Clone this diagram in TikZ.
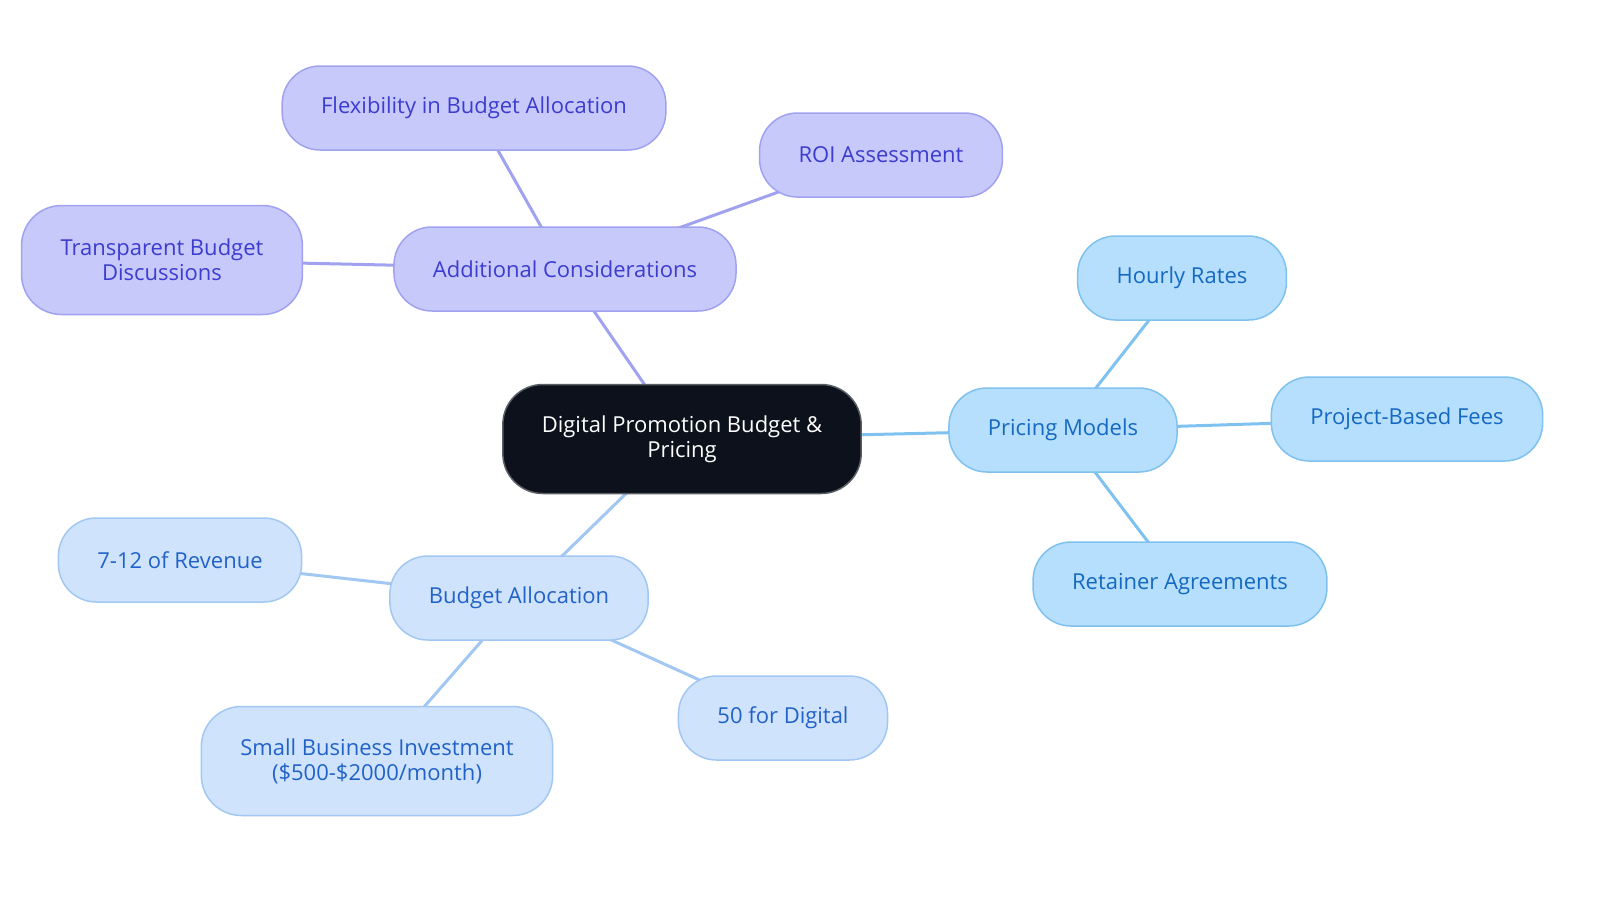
\documentclass[tikz,border=0pt]{standalone}
\usepackage{fontspec}
\setmainfont{Open Sans}
\usepackage{xcolor}
\usetikzlibrary{backgrounds}
\definecolor{rootfill}{HTML}{0C111B}
\definecolor{rootline}{HTML}{5A5F66}
\definecolor{considerfill}{HTML}{C8C9FB}
\definecolor{considerline}{HTML}{A0A2F0}
\definecolor{considertext}{HTML}{3C3CCF}
\definecolor{pricingfill}{HTML}{B5DFFC}
\definecolor{pricingline}{HTML}{7FC1EF}
\definecolor{pricingtext}{HTML}{1569C2}
\definecolor{budgetfill}{HTML}{CFE4FC}
\definecolor{budgetline}{HTML}{A2C7F2}
\definecolor{budgettext}{HTML}{2262C8}

\begin{document}
\begin{tikzpicture}[x=1pt, y=-1pt,
  pill/.style={rectangle, rounded corners=38pt, inner xsep=39pt, minimum height=84pt,
    line width=1.5pt, align=center, font=\fontsize{22}{25}\selectfont},
  root/.style={pill, fill=rootfill, draw=rootline, text=white, minimum height=109pt, rounded corners=40pt},
  consider/.style={pill, fill=considerfill, draw=considerline, text=considertext},
  pricing/.style={pill, fill=pricingfill, draw=pricingline, text=pricingtext},
  budget/.style={pill, fill=budgetfill, draw=budgetline, text=budgettext},
  tall/.style={minimum height=109pt, rounded corners=40pt},
  link/.style={line width=3pt}]
\useasboundingbox (0,0) rectangle (1600,903);

% centre
\node[root] (promo) at (682,439) {Digital Promotion Budget \&\\Pricing};

% additional considerations
\node[consider] (extra) at (565,269) {Additional Considerations};
\node[consider] (flex) at (474,108) {Flexibility in Budget Allocation};
\node[consider] (roi) at (881,155) {ROI Assessment};
\node[consider, tall] (talk) at (162,260) {Transparent Budget\\Discussions};

% pricing models
\node[pricing] (models) at (1063,430) {Pricing Models};
\node[pricing] (hourly) at (1182,278) {Hourly Rates};
\node[pricing] (project) at (1407,419) {Project-Based Fees};
\node[pricing] (retainer) at (1180,584) {Retainer Agreements};

% budget allocation
\node[budget] (alloc) at (519,598) {Budget Allocation};
\node[budget] (revenue) at (180,560) {7-12 of Revenue};
\node[budget, tall] (small) at (377,761) {Small Business Investment\\(\$500-\$2000/month)};
\node[budget] (digital) at (783,718) {50 for Digital};

\begin{scope}[on background layer]
\draw[link, considerline] (promo.center) -- (extra.center);
\draw[link, considerline] (extra.center) -- (flex.center);
\draw[link, considerline] (extra.center) -- (roi.center);
\draw[link, considerline] (extra.center) -- (talk.center);
\draw[link, pricingline] (promo.center) -- (models.center);
\draw[link, pricingline] (models.center) -- (hourly.center);
\draw[link, pricingline] (models.center) -- (project.center);
\draw[link, pricingline] (models.center) -- (retainer.center);
\draw[link, budgetline] (promo.center) -- (alloc.center);
\draw[link, budgetline] (alloc.center) -- (revenue.center);
\draw[link, budgetline] (alloc.center) -- (small.center);
\draw[link, budgetline] (alloc.center) -- (digital.center);
\end{scope}
\end{tikzpicture}
\end{document}
